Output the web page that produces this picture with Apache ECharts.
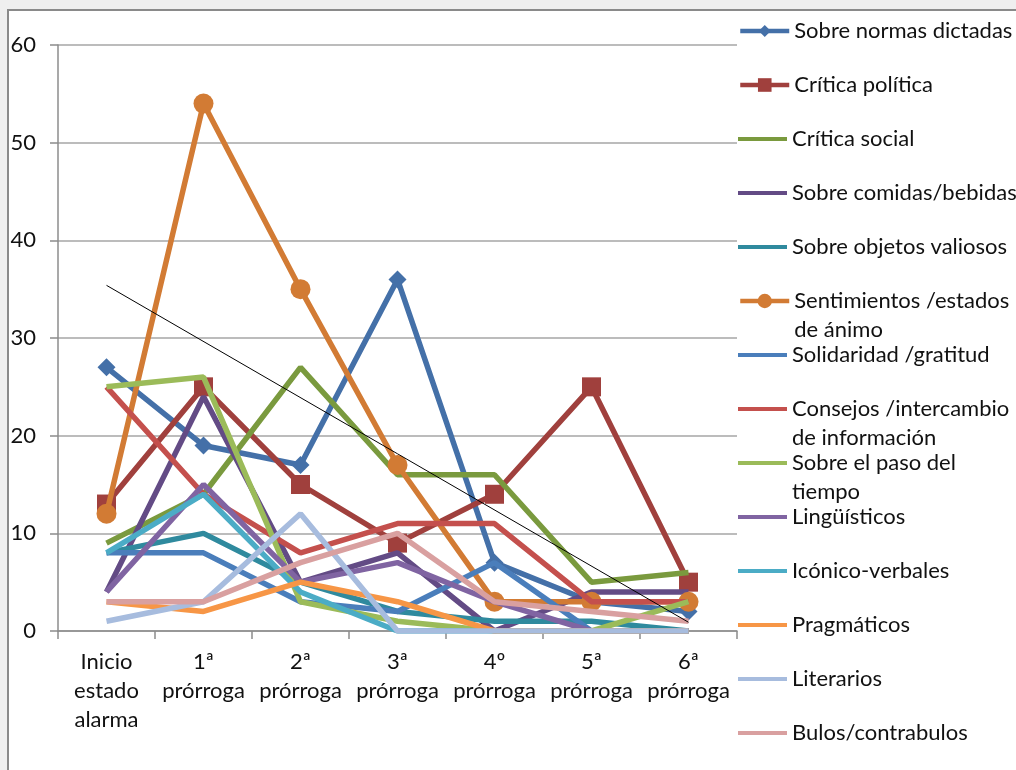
<!DOCTYPE html>
<html>
<head>
<meta charset="utf-8">
<script src="https://cdn.jsdelivr.net/npm/echarts@6/dist/echarts.min.js"></script>
<style>
html,body{margin:0;padding:0;background:#efefef;}
#chart{width:1016px;height:770px;}
</style>
</head>
<body>
<div id="chart"></div>
<script>
// ---- data ----
const categories = ['Inicio\nestado\nalarma', '1ª\nprórroga', '2ª\nprórroga', '3ª\nprórroga', '4º\nprórroga', '5ª\nprórroga', '6ª\nprórroga'];
const seriesNames = [
  'Sobre normas dictadas', 'Crítica política', 'Crítica social', 'Sobre comidas/bebidas',
  'Sobre objetos valiosos', 'Sentimientos /estados\nde ánimo', 'Solidaridad /gratitud',
  'Consejos /intercambio\nde información', 'Sobre el paso del\ntiempo', 'Lingüísticos',
  'Icónico-verbales', 'Pragmáticos', 'Literarios', 'Bulos/contrabulos'
];
const normas       = [27, 19, 17, 36, 7, 3, 2];
const politica     = [13, 25, 15, 9, 14, 25, 5];
const social       = [9, 14, 27, 16, 16, 5, 6];
const comidas      = [4, 24, 5, 8, 0, 4, 4];
const objetos      = [8, 10, 5, 2, 1, 1, 0];
const sentimientos = [12, 54, 35, 17, 3, 3, 3];
const solidaridad  = [8, 8, 3, 2, 7, 0, 0];
const consejos     = [25, 14, 8, 11, 11, 3, 3];
const pasoTiempo   = [25, 26, 3, 1, 0, 0, 3];
const linguisticos = [4, 15, 5, 7, 3, 0, 0];
const iconicos     = [8, 14, 4, 0, 0, 0, 0];
const pragmaticos  = [3, 2, 5, 3, 0, 0, 0];
const literarios   = [1, 3, 12, 0, 0, 0, 0];
const bulos        = [3, 3, 7, 10, 3, 2, 1];
const yTicks = [0, 10, 20, 30, 40, 50, 60];

const allData = [normas, politica, social, comidas, objetos, sentimientos, solidaridad,
  consejos, pasoTiempo, linguisticos, iconicos, pragmaticos, literarios, bulos];
const colors = ['#4470a8', '#a0403d', '#7a9a3e', '#634b85', '#2f8a9e', '#d27b34', '#4a7ebb',
  '#c4504d', '#9bbb59', '#8064a2', '#4bacc6', '#f79646', '#a7bcde', '#d9a0a0'];
const symbols = ['diamond', 'rect', null, null, null, 'circle', null, null, null, null, null, null, null, null];
const symbolSizes = [18, 19, 0, 0, 0, 20, 0, 0, 0, 0, 0, 0, 0, 0];

// linear trendline (least squares) of "Sentimientos" series
function linReg(arr) {
  const n = arr.length;
  let sx = 0, sy = 0, sxx = 0, sxy = 0;
  arr.forEach((v, i) => { sx += i; sy += v; sxx += i * i; sxy += i * v; });
  const b = (n * sxy - sx * sy) / (n * sxx - sx * sx);
  const a = (sy - b * sx) / n;
  return [a, b];
}
const [ta, tb] = linReg(sentimientos);

const FONT = 'Lato';
const FS = 22;
const LW = 5.5;

const series = allData.map((d, i) => {
  const s = {
    name: seriesNames[i],
    type: 'line',
    data: d,
    color: colors[i],
    lineStyle: { width: LW, color: colors[i] },
    itemStyle: { color: colors[i] },
    symbol: symbols[i] || 'none',
    symbolSize: symbolSizes[i],
    showSymbol: !!symbols[i],
    animation: false,
    z: 2 + i * 0.01
  };
  if (i === 5) {
    s.markLine = {
      silent: true,
      symbol: ['none', 'none'],
      label: { show: false },
      lineStyle: { color: '#000', width: 1, type: 'solid' },
      z: 10,
      data: [[
        { coord: [0, ta] },
        { coord: [categories.length - 1, ta + tb * (categories.length - 1)] }
      ]]
    };
  }
  return s;
});

const legends = seriesNames.map((name, i) => {
  const twoLine = name.indexOf('\n') >= 0;
  const lh = 29;
  const h = twoLine ? lh * 3 : lh;
  const cy = 31 + 54 * i;
  const item = { name: name };
  const lg = {
    show: true,
    orient: 'vertical',
    left: 738,
    top: cy - h / 2,
    itemWidth: 49,
    itemGap: 0,
    padding: 0,
    selectedMode: false,
    data: [item],
    formatter: function (n) { return n.indexOf('\n') >= 0 ? ' \n' + n : n; },
    lineStyle: { width: 4.5 },
    textStyle: { fontFamily: FONT, fontSize: FS, color: '#111', lineHeight: lh }
  };
  if (symbols[i]) {
    lg.itemHeight = symbols[i] === 'diamond' ? 15 : (symbols[i] === 'rect' ? 17 : 18);
  } else {
    lg.itemHeight = 4.5;
    item.icon = 'path://M0,0H50V4H0Z';
  }
  return lg;
});

const chart = echarts.init(document.getElementById('chart'), null, { renderer: 'canvas' });
chart.setOption({
  animation: false,
  backgroundColor: 'transparent',
  graphic: [{
    type: 'rect', z: -10, silent: true,
    shape: { x: 8, y: 10, width: 1100, height: 800 },
    style: { fill: '#ffffff', stroke: '#8a8a8a', lineWidth: 2 }
  }],
  grid: { left: 58, right: 279, top: 45, bottom: 139, containLabel: false },
  legend: legends,
  xAxis: {
    type: 'category',
    data: categories,
    boundaryGap: true,
    axisLine: { lineStyle: { color: '#8c8c8c', width: 1.5 } },
    axisTick: { show: true, length: 8, alignWithLabel: false, lineStyle: { color: '#8c8c8c', width: 1.5 } },
    axisLabel: { fontFamily: FONT, fontSize: FS, color: '#111', lineHeight: 29, margin: 16, interval: 0 },
    splitLine: { show: false }
  },
  yAxis: {
    type: 'value',
    min: yTicks[0],
    max: yTicks[yTicks.length - 1],
    interval: 10,
    axisLine: { show: true, lineStyle: { color: '#8c8c8c', width: 1.5 } },
    axisTick: { show: true, length: 8, lineStyle: { color: '#8c8c8c', width: 1.5 } },
    axisLabel: { fontFamily: FONT, fontSize: FS, color: '#111', margin: 22 },
    splitLine: { show: true, lineStyle: { color: '#a6a6a6', width: 1.5 } }
  },
  series: series
});
</script>
</body>
</html>
